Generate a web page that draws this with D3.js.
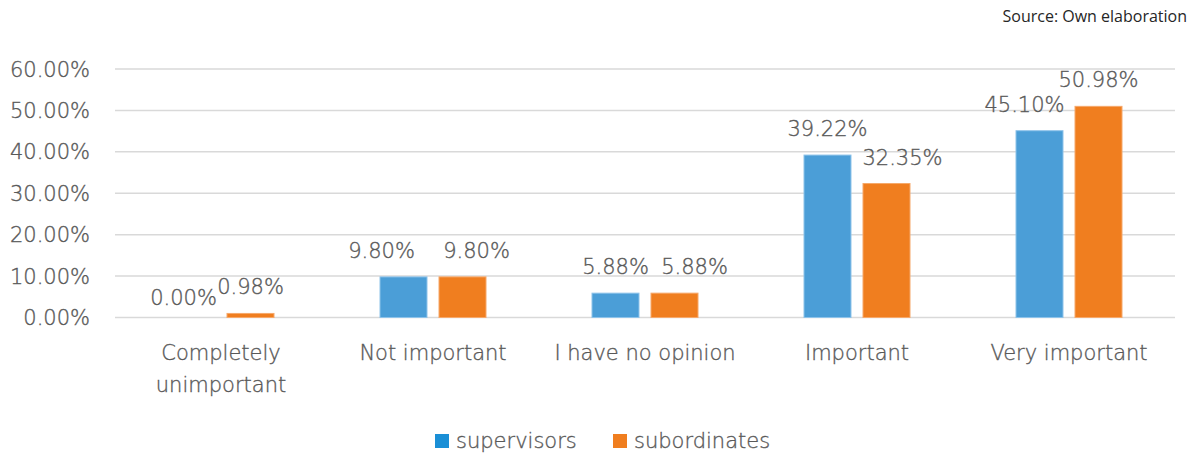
<!DOCTYPE html>
<html><head><meta charset="utf-8">
<script src="https://cdn.jsdelivr.net/npm/d3@7"></script>
<style>body{margin:0;background:#fff;}text{font-family:"DejaVu Sans",sans-serif;font-weight:200;stroke:#595959;stroke-width:0.35px;}</style>
</head><body><svg id="c" width="1190" height="455"></svg>
<script>
const categories = [["Completely","unimportant"],["Not important"],["I have no opinion"],["Important"],["Very important"]];
const seriesNames = ["supervisors","subordinates"];
const supervisors = [0.00, 9.80, 5.88, 39.22, 45.10];
const subordinates = [0.98, 9.80, 5.88, 32.35, 50.98];
const yTicks = [0,10,20,30,40,50,60];

// layout: horizontal nudges Excel applied to overlapping data labels (px)
const labelNudge = [[-8,-22,0,0,-15],[0,14,20,16,0]];

const colors = ["#4b9ed7","#f07e1f"];
const legendColors = ["#1a8fd6","#f07e1f"];
const textCol = "#595959";
const svg = d3.select("#c");
const x0 = 115, x1 = 1175, yTop = 69, yBot = 317.5;
const x = d3.scaleBand().domain(d3.range(categories.length)).range([x0,x1]);
const y = d3.scaleLinear().domain([0,60]).range([yBot,yTop]);
const barW = 47, gap = 12;

svg.append("g").selectAll("line").data(yTicks).join("line")
  .attr("x1",x0).attr("x2",x1).attr("y1",d=>y(d)).attr("y2",d=>y(d))
  .attr("stroke","#d9d9d9").attr("stroke-width",1.5);
svg.append("g").selectAll("text").data(yTicks).join("text")
  .attr("x",90).attr("y",d=>y(d)+7.5).attr("text-anchor","end")
  .attr("font-size",21).attr("fill",textCol).text(d=>d.toFixed(2)+"%");

const series = [supervisors, subordinates];
series.forEach((vals,si)=>{
  const off = si===0 ? -(gap/2+barW) : gap/2;
  const g = svg.append("g");
  g.selectAll("rect").data(vals).join("rect")
    .attr("x",(d,i)=>x(i)+x.bandwidth()/2+off)
    .attr("y",d=>y(d)).attr("width",barW).attr("height",d=>yBot-y(d))
    .attr("fill",colors[si]).attr("stroke", si===0?"#8ec3ea":"#f6a86a").attr("stroke-width",1);
  g.selectAll("text").data(vals).join("text")
    .attr("x",(d,i)=>x(i)+x.bandwidth()/2+off+barW/2+labelNudge[si][i])
    .attr("y",d=>y(d)-(d===0?12.5:19))
    .attr("text-anchor","middle").attr("font-size",21).attr("fill",textCol)
    .text(d=>d.toFixed(2)+"%");
});

const cl = svg.append("g").selectAll("text").data(categories).join("text")
  .attr("text-anchor","middle").attr("font-size",21).attr("fill",textCol)
  .attr("x",(d,i)=>x(i)+x.bandwidth()/2).attr("y",360);
cl.selectAll("tspan").data(d=>d).join("tspan")
  .attr("x",function(){return this.parentNode.getAttribute("x");})
  .attr("dy",(d,i)=>i===0?0:32).text(d=>d);

const legX = [435, 613];
seriesNames.forEach((n,i)=>{
  svg.append("rect").attr("x",legX[i]).attr("y",434).attr("width",14).attr("height",14).attr("fill",legendColors[i]);
  svg.append("text").attr("x",legX[i]+21).attr("y",448).attr("font-size",21).attr("fill",textCol).text(n);
});

svg.append("text").attr("x",1187).attr("y",22).attr("text-anchor","end")
  .attr("font-size",16).attr("fill","#262626").style("font-family","'Open Sans',sans-serif").style("font-weight",400)
  .style("stroke","none").text("Source: Own elaboration");
</script></body></html>
